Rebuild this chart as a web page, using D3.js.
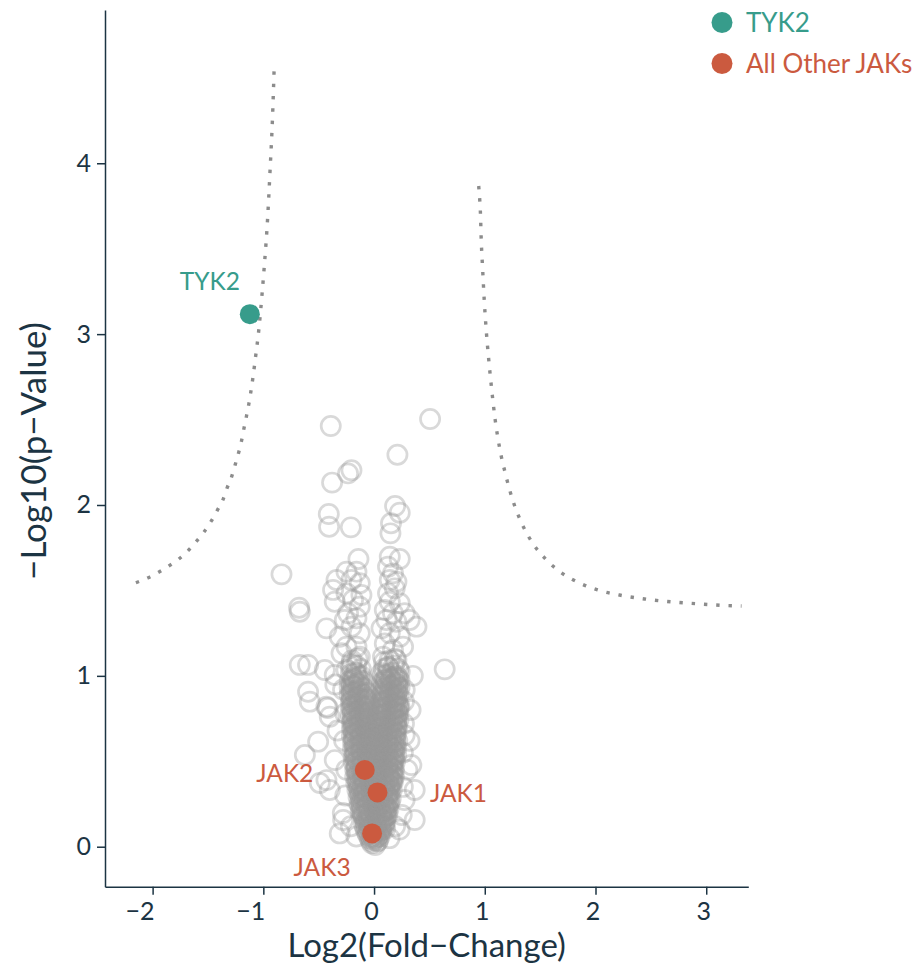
<!DOCTYPE html>
<html>
<head>
<meta charset="utf-8">
<script src="https://cdn.jsdelivr.net/npm/d3@7"></script>
<style>
  body { margin: 0; background: #fff; }
  text { font-family: Lato, "Open Sans", sans-serif; }
</style>
</head>
<body>
<div id="chart"></div>
<script>
// background proteins: [log2 fold-change, -log10 p]
const otherProteins = [
  // isolated points
  [0.506,2.503],[-0.391,2.462],[0.211,2.294],[-0.204,2.203],[-0.235,2.185],[-0.379,2.131],
  [0.190,1.994],[0.232,1.955],[-0.409,1.947],[-0.406,1.873],[-0.210,1.869],[0.153,1.893],
  [0.148,1.834],[-0.836,1.594],[-0.141,1.684],[-0.677,1.399],[-0.671,1.375],[-0.430,1.278],
  [0.383,1.288],[0.638,1.038],[-0.671,1.064],[-0.596,1.064],[-0.445,1.034],
  // left arm
  [-0.249,1.610],[-0.159,1.610],[-0.204,1.561],[-0.339,1.561],[-0.129,1.542],[-0.370,1.503],
  [-0.114,1.473],[-0.249,1.483],[-0.355,1.434],[-0.190,1.444],[-0.129,1.405],[-0.235,1.366],
  [-0.159,1.337],[-0.264,1.327],[-0.204,1.288],[-0.129,1.249],[-0.310,1.229],[-0.249,1.171],
  [-0.159,1.171],[-0.129,1.112],[-0.294,1.132],[-0.204,1.073],[-0.249,1.034],[-0.159,1.015],
  [-0.355,1.005],
  // right arm
  [0.142,1.697],[0.232,1.684],[0.126,1.639],[0.171,1.600],[0.142,1.561],[0.202,1.551],
  [0.187,1.512],[0.126,1.483],[0.142,1.434],[0.232,1.425],[0.097,1.385],[0.171,1.366],
  [0.277,1.366],[0.112,1.327],[0.202,1.317],[0.322,1.327],[0.067,1.278],[0.142,1.249],
  [0.232,1.229],[0.097,1.190],[0.171,1.151],[0.262,1.171],[0.081,1.112],[0.202,1.093],
  [0.126,1.054],[0.232,1.024],[0.067,1.015],
  // rings around the core
  [-0.596,0.907],[-0.580,0.849],[-0.418,0.812],[-0.400,0.761],[-0.505,0.615],[-0.625,0.537],
  [-0.430,0.390],[-0.490,0.373],[-0.400,0.332],[-0.355,0.507],[-0.282,0.197],[-0.279,0.156],
  [-0.310,0.078],[-0.430,0.819],[0.337,0.478],[0.367,0.332],[0.367,0.156],[0.320,0.620],
  [0.276,0.653],[0.300,0.450],[0.276,0.273],[0.250,0.186],[0.230,0.100],[0.277,0.917],
  [-0.26,0.30],[-0.25,0.45],[-0.27,0.62],[-0.26,0.78],[-0.28,0.92],[0.26,0.35],[0.26,0.55],
  [0.27,0.72],[0.27,0.85],[-0.21,0.12],[0.19,0.12],[-0.16,0.06],[0.14,0.05],[-0.33,0.68],
  [0.33,0.80],[-0.35,0.95],[0.35,1.00],
  // dense core
  [-0.02,0.02],[0.01,0.01],[0.03,0.03],
  [-0.04,0.05],[-0.01,0.06],[0.02,0.05],[0.05,0.06],
  [-0.07,0.09],[-0.03,0.10],[0.00,0.08],[0.04,0.09],[0.07,0.10],
  [-0.09,0.13],[-0.05,0.14],[-0.02,0.12],[0.02,0.13],[0.05,0.14],[0.09,0.12],
  [-0.10,0.18],[-0.06,0.17],[-0.02,0.16],[0.01,0.18],[0.05,0.17],[0.08,0.16],[0.11,0.18],
  [-0.12,0.21],[-0.08,0.22],[-0.04,0.20],[0.00,0.21],[0.03,0.22],[0.07,0.20],[0.10,0.21],[0.13,0.22],
  [-0.13,0.25],[-0.09,0.26],[-0.05,0.24],[-0.01,0.25],[0.02,0.26],[0.06,0.25],[0.10,0.24],[0.14,0.26],
  [-0.14,0.29],[-0.10,0.30],[-0.06,0.28],[-0.02,0.29],[0.02,0.30],[0.05,0.28],[0.09,0.29],[0.12,0.30],[0.15,0.28],
  [-0.15,0.33],[-0.11,0.34],[-0.07,0.32],[-0.03,0.33],[0.00,0.34],[0.04,0.32],[0.08,0.33],[0.12,0.34],[0.16,0.33],
  [-0.16,0.37],[-0.12,0.38],[-0.08,0.36],[-0.04,0.37],[0.00,0.38],[0.03,0.36],[0.07,0.37],[0.11,0.38],[0.14,0.36],[0.17,0.38],
  [-0.17,0.41],[-0.13,0.42],[-0.09,0.40],[-0.05,0.41],[-0.01,0.42],[0.03,0.40],[0.07,0.41],[0.10,0.42],[0.14,0.40],[0.18,0.41],
  [-0.17,0.45],[-0.13,0.46],[-0.09,0.44],[-0.05,0.45],[-0.02,0.46],[0.02,0.44],[0.06,0.45],[0.10,0.46],[0.14,0.44],[0.18,0.45],
  [-0.18,0.49],[-0.14,0.50],[-0.10,0.48],[-0.06,0.49],[-0.02,0.50],[0.02,0.48],[0.05,0.49],[0.09,0.50],[0.13,0.48],[0.16,0.49],[0.19,0.50],
  [-0.18,0.53],[-0.14,0.54],[-0.10,0.52],[-0.06,0.53],[-0.03,0.54],[0.01,0.52],[0.05,0.53],[0.09,0.54],[0.13,0.52],[0.17,0.53],[0.20,0.54],
  [-0.19,0.57],[-0.15,0.58],[-0.11,0.56],[-0.07,0.57],[-0.03,0.58],[0.01,0.56],[0.05,0.57],[0.09,0.58],[0.13,0.56],[0.17,0.57],[0.20,0.58],
  [-0.19,0.61],[-0.15,0.62],[-0.11,0.60],[-0.07,0.61],[-0.03,0.62],[0.01,0.60],[0.05,0.61],[0.09,0.62],[0.13,0.60],[0.17,0.61],[0.21,0.62],
  [-0.20,0.65],[-0.16,0.66],[-0.12,0.64],[-0.08,0.65],[-0.04,0.66],[0.00,0.64],[0.04,0.65],[0.08,0.66],[0.12,0.64],[0.16,0.65],[0.20,0.66],
  [-0.20,0.69],[-0.16,0.70],[-0.12,0.68],[-0.08,0.69],[-0.04,0.70],[0.01,0.68],[0.05,0.69],[0.09,0.70],[0.13,0.68],[0.17,0.69],[0.21,0.70],
  [-0.20,0.73],[-0.16,0.74],[-0.12,0.72],[-0.08,0.73],[-0.03,0.74],[0.02,0.72],[0.06,0.73],[0.10,0.74],[0.14,0.72],[0.18,0.73],[0.22,0.74],
  [-0.21,0.77],[-0.17,0.78],[-0.13,0.76],[-0.09,0.77],[-0.05,0.78],[0.03,0.76],[0.07,0.77],[0.11,0.78],[0.15,0.76],[0.19,0.77],[0.22,0.78],
  [-0.21,0.81],[-0.17,0.82],[-0.13,0.80],[-0.09,0.81],[-0.05,0.82],[0.04,0.80],[0.08,0.81],[0.12,0.82],[0.16,0.80],[0.20,0.81],[0.23,0.82],
  [-0.21,0.85],[-0.17,0.86],[-0.13,0.84],[-0.09,0.85],[-0.06,0.86],[0.05,0.84],[0.09,0.85],[0.13,0.86],[0.17,0.84],[0.21,0.85],
  [-0.22,0.89],[-0.18,0.90],[-0.14,0.88],[-0.10,0.89],[-0.06,0.90],[0.06,0.88],[0.10,0.89],[0.14,0.90],[0.18,0.88],[0.22,0.89],
  [-0.22,0.93],[-0.18,0.94],[-0.14,0.92],[-0.10,0.93],[0.07,0.92],[0.11,0.93],[0.15,0.94],[0.19,0.92],[0.23,0.93],
  [-0.22,0.97],[-0.18,0.98],[-0.14,0.96],[-0.10,0.97],[0.07,0.96],[0.11,0.97],[0.15,0.98],[0.19,0.96],[0.23,0.97],
  [-0.21,1.01],[-0.17,1.02],[-0.12,1.00],[0.08,1.00],[0.12,1.01],[0.16,1.02],[0.20,1.00],
  [-0.21,1.05],[-0.16,1.06],[-0.12,1.04],[0.09,1.04],[0.13,1.05],[0.18,1.06],[0.22,1.04],
  [-0.20,1.09],[-0.15,1.10],[0.09,1.08],[0.14,1.09],[0.19,1.10],
  // core, second layer
  [-0.03,0.035],[0.00,0.04],[0.035,0.035],
  [-0.055,0.07],[-0.02,0.075],[0.015,0.07],[0.05,0.075],
  [-0.08,0.11],[-0.045,0.115],[-0.01,0.105],[0.03,0.11],[0.065,0.115],[0.10,0.105],
  [-0.08,0.15],[-0.04,0.155],[0.00,0.145],[0.035,0.15],[0.07,0.155],[0.10,0.145],
  [-0.10,0.19],[-0.065,0.195],[-0.03,0.185],[0.03,0.19],[0.065,0.195],[0.12,0.185],
  [-0.11,0.23],[-0.07,0.235],[-0.02,0.225],[0.02,0.23],[0.05,0.235],[0.09,0.225],[0.12,0.23],
  [-0.12,0.27],[-0.08,0.275],[-0.03,0.265],[0.00,0.27],[0.04,0.275],[0.08,0.265],[0.12,0.27],
  [-0.13,0.31],[-0.09,0.315],[-0.05,0.305],[-0.01,0.31],[0.03,0.315],[0.07,0.305],[0.11,0.31],[0.14,0.315],
  [-0.14,0.35],[-0.10,0.355],[-0.06,0.345],[-0.02,0.35],[0.02,0.355],[0.06,0.345],[0.10,0.35],[0.14,0.355],
  [-0.15,0.39],[-0.10,0.395],[-0.06,0.385],[-0.02,0.39],[0.02,0.395],[0.05,0.385],[0.09,0.39],[0.13,0.395],[0.16,0.385],
  [-0.15,0.43],[-0.11,0.435],[-0.07,0.425],[-0.03,0.43],[0.01,0.435],[0.05,0.425],[0.09,0.43],[0.12,0.435],[0.16,0.425],
  [-0.16,0.47],[-0.12,0.475],[-0.07,0.465],[-0.04,0.47],[0.00,0.475],[0.04,0.465],[0.08,0.47],[0.12,0.475],[0.16,0.465],
  [-0.16,0.51],[-0.12,0.515],[-0.08,0.505],[-0.04,0.51],[0.00,0.515],[0.03,0.505],[0.07,0.51],[0.11,0.515],[0.15,0.505],[0.18,0.51],
  [-0.17,0.55],[-0.12,0.555],[-0.08,0.545],[-0.05,0.55],[-0.01,0.555],[0.03,0.545],[0.07,0.55],[0.11,0.555],[0.15,0.545],[0.18,0.55],
  [-0.17,0.59],[-0.13,0.595],[-0.09,0.585],[-0.05,0.59],[-0.01,0.595],[0.03,0.585],[0.07,0.59],[0.11,0.595],[0.15,0.585],[0.19,0.59],
  [-0.18,0.63],[-0.13,0.635],[-0.09,0.625],[-0.05,0.63],[-0.01,0.635],[0.03,0.625],[0.07,0.63],[0.11,0.635],[0.15,0.625],[0.19,0.63],
  [-0.18,0.67],[-0.14,0.675],[-0.10,0.665],[-0.06,0.67],[-0.02,0.675],[0.03,0.665],[0.07,0.67],[0.11,0.675],[0.15,0.665],[0.19,0.67],
  [-0.18,0.71],[-0.14,0.715],[-0.10,0.705],[-0.06,0.71],[-0.01,0.715],[0.04,0.705],[0.08,0.71],[0.12,0.715],[0.16,0.705],[0.20,0.71],
  [-0.19,0.75],[-0.15,0.755],[-0.11,0.745],[-0.07,0.75],[0.05,0.755],[0.09,0.745],[0.13,0.75],[0.17,0.755],[0.20,0.745],
  [-0.19,0.79],[-0.15,0.795],[-0.11,0.785],[-0.07,0.79],[0.06,0.795],[0.10,0.785],[0.14,0.79],[0.18,0.795],[0.21,0.785],
  [-0.19,0.83],[-0.15,0.835],[-0.11,0.825],[-0.07,0.83],[0.07,0.835],[0.11,0.825],[0.15,0.83],[0.19,0.835],[0.22,0.825],
  [-0.20,0.87],[-0.16,0.875],[-0.12,0.865],[-0.08,0.87],[0.08,0.875],[0.12,0.865],[0.16,0.87],[0.20,0.875],
  [-0.20,0.91],[-0.16,0.915],[-0.12,0.905],[0.09,0.91],[0.13,0.915],[0.17,0.905],[0.21,0.91],
  [-0.20,0.95],[-0.16,0.955],[-0.12,0.945],[0.09,0.95],[0.13,0.955],[0.17,0.945],[0.21,0.95],
  [-0.19,0.99],[-0.15,0.995],[0.10,0.985],[0.14,0.99],[0.18,0.995],[0.22,0.985],
  // core, third layer
  [-0.025,0.055],[0.025,0.055],
  [-0.05,0.095],[0.015,0.095],[0.06,0.095],
  [-0.07,0.135],[-0.03,0.135],[0.01,0.135],[0.06,0.135],[0.09,0.135],
  [-0.09,0.175],[-0.04,0.175],[0.02,0.175],[0.07,0.175],[0.10,0.175],
  [-0.10,0.215],[-0.05,0.215],[0.01,0.215],[0.06,0.215],[0.11,0.215],
  [-0.11,0.255],[-0.06,0.255],[-0.01,0.255],[0.04,0.255],[0.09,0.255],[0.13,0.255],
  [-0.12,0.295],[-0.07,0.295],[-0.02,0.295],[0.03,0.295],[0.08,0.295],[0.13,0.295],
  [-0.13,0.335],[-0.08,0.335],[-0.02,0.335],[0.03,0.335],[0.09,0.335],[0.14,0.335],
  [-0.14,0.375],[-0.09,0.375],[-0.03,0.375],[0.02,0.375],[0.08,0.375],[0.13,0.375],[0.16,0.375],
  [-0.15,0.415],[-0.10,0.415],[-0.04,0.415],[0.02,0.415],[0.08,0.415],[0.13,0.415],[0.17,0.415],
  [-0.16,0.455],[-0.10,0.455],[-0.04,0.455],[0.01,0.455],[0.07,0.455],[0.12,0.455],[0.17,0.455],
  [-0.16,0.495],[-0.11,0.495],[-0.05,0.495],[0.01,0.495],[0.07,0.495],[0.12,0.495],[0.17,0.495],
  [-0.17,0.535],[-0.11,0.535],[-0.05,0.535],[0.00,0.535],[0.06,0.535],[0.12,0.535],[0.18,0.535],
  [-0.17,0.575],[-0.12,0.575],[-0.06,0.575],[0.00,0.575],[0.06,0.575],[0.12,0.575],[0.18,0.575],
  [-0.18,0.615],[-0.12,0.615],[-0.06,0.615],[0.00,0.615],[0.06,0.615],[0.12,0.615],[0.19,0.615],
  [-0.18,0.655],[-0.12,0.655],[-0.06,0.655],[0.01,0.655],[0.07,0.655],[0.13,0.655],[0.19,0.655],
  [-0.19,0.695],[-0.13,0.695],[-0.07,0.695],[0.02,0.695],[0.08,0.695],[0.14,0.695],[0.20,0.695],
  [-0.19,0.735],[-0.13,0.735],[-0.07,0.735],[0.04,0.735],[0.10,0.735],[0.16,0.735],[0.20,0.735],
  [-0.19,0.775],[-0.13,0.775],[-0.07,0.775],[0.05,0.775],[0.11,0.775],[0.17,0.775],[0.21,0.775],
  [-0.20,0.815],[-0.14,0.815],[-0.08,0.815],[0.06,0.815],[0.12,0.815],[0.18,0.815],[0.22,0.815],
  [-0.20,0.855],[-0.14,0.855],[-0.08,0.855],[0.07,0.855],[0.13,0.855],[0.19,0.855],
  [-0.20,0.895],[-0.14,0.895],[0.08,0.895],[0.14,0.895],[0.20,0.895],
  [-0.20,0.935],[-0.13,0.935],[0.09,0.935],[0.15,0.935],[0.21,0.935],
  [-0.19,0.975],[-0.13,0.975],[0.10,0.975],[0.16,0.975],[0.21,0.975]
];

// highlighted kinases
const jakNames = ["TYK2", "JAK2", "JAK1", "JAK3"];
const jakX = [-1.122, -0.084, 0.031, -0.018];
const jakY = [3.117, 0.449, 0.318, 0.078];
const jakGroup = ["TYK2", "All Other JAKs", "All Other JAKs", "All Other JAKs"];

// significance threshold curves
const leftCutoff = [
  [-2.151,1.545],[-2.045,1.573],[-1.946,1.606],[-1.853,1.643],[-1.763,1.684],[-1.679,1.733],
  [-1.603,1.788],[-1.534,1.844],[-1.471,1.905],[-1.417,1.967],[-1.366,2.029],[-1.327,2.100],
  [-1.287,2.164],[-1.255,2.234],[-1.224,2.304],[-1.197,2.375],[-1.176,2.445],[-1.152,2.521],
  [-1.131,2.591],[-1.113,2.662],[-1.097,2.732],[-1.068,2.878],[-1.041,3.024],[-1.011,3.239],
  [-0.993,3.383],[-0.962,3.670],[-0.939,3.961],[-0.918,4.253],[-0.903,4.540]
];
const rightCutoff = [
  [0.945,3.867],[0.954,3.791],[0.960,3.721],[0.968,3.551],[0.981,3.376],[0.995,3.200],
  [1.013,3.024],[1.036,2.849],[1.063,2.673],[1.094,2.498],[1.134,2.334],[1.189,2.176],
  [1.252,2.029],[1.333,1.894],[1.432,1.777],[1.550,1.683],[1.685,1.607],[1.838,1.549],
  [2.019,1.503],[2.217,1.473],[2.443,1.450],[2.687,1.433],[2.940,1.421],[3.166,1.412],
  [3.319,1.409]
];

const xTicks = [-2, -1, 0, 1, 2, 3];
const yTicks = [0, 1, 2, 3, 4];
const legendLabels = ["TYK2", "All Other JAKs"];

const W = 918, H = 967;
const margin = { top: 10, right: 169.7, bottom: 80.3, left: 105 };
const ink = "#1c3443";
const colors = { "TYK2": "#379c8b", "All Other JAKs": "#cb5a3f" };

const svg = d3.select("#chart").append("svg")
  .attr("width", W).attr("height", H)
  .style("background", "#fff");

const x = d3.scaleLinear().domain([-2.43, 3.38]).range([margin.left, W - margin.right]);
const y = d3.scaleLinear().domain([-0.234, 4.897]).range([H - margin.bottom, margin.top]);

// background points
svg.append("g")
  .selectAll("circle")
  .data(otherProteins)
  .join("circle")
  .attr("cx", d => x(d[0]))
  .attr("cy", d => y(d[1]))
  .attr("r", 9.6)
  .attr("fill", "none")
  .attr("stroke", "#999")
  .attr("stroke-opacity", 0.37)
  .attr("stroke-width", 2.7);

// threshold curves
const line = d3.line().x(d => x(d[0])).y(d => y(d[1])).curve(d3.curveMonotoneX);
[leftCutoff, rightCutoff].forEach(c => {
  svg.append("path")
    .attr("d", line(c))
    .attr("fill", "none")
    .attr("stroke", "#8c8c8c")
    .attr("stroke-width", 3.4)
    .attr("stroke-dasharray", "3.4 8.9");
});

// axes
const fmt = d3.format("d");
const xAxis = svg.append("g")
  .attr("transform", `translate(0,${H - margin.bottom})`)
  .call(d3.axisBottom(x).tickValues(xTicks).tickFormat(fmt)
    .tickSize(8).tickSizeOuter(0).tickPadding(8));
const yAxis = svg.append("g")
  .attr("transform", `translate(${margin.left},0)`)
  .call(d3.axisLeft(y).tickValues(yTicks).tickFormat(fmt)
    .tickSize(8).tickSizeOuter(0).tickPadding(6));

[xAxis, yAxis].forEach(g => {
  g.select(".domain").attr("stroke", ink).attr("stroke-width", 1.5);
  g.selectAll(".tick line").attr("stroke", ink).attr("stroke-width", 1.5);
  g.selectAll(".tick text")
    .attr("fill", ink)
    .style("font-size", "25px")
    .style("font-family", "Lato, sans-serif");
});
// the original's negative labels sit left of their ticks
xAxis.selectAll(".tick text").attr("dx", d => d < 0 ? -13 : -3);

// axis titles
svg.append("text")
  .attr("x", (margin.left + W - margin.right) / 2)
  .attr("y", 957)
  .attr("text-anchor", "middle")
  .attr("fill", ink)
  .style("font-size", "33px")
  .text("Log2(Fold\u2212Change)");

svg.append("text")
  .attr("transform", "translate(46,451) rotate(-90)")
  .attr("text-anchor", "middle")
  .attr("fill", ink)
  .style("font-size", "35px")
  .text("\u2212Log10(p\u2212Value)");

// highlighted points
const jaks = jakNames.map((n, i) => ({ name: n, x: jakX[i], y: jakY[i], group: jakGroup[i] }));
svg.append("g")
  .selectAll("circle")
  .data(jaks)
  .join("circle")
  .attr("cx", d => x(d.x))
  .attr("cy", d => y(d.y))
  .attr("r", 10)
  .attr("fill", d => colors[d.group]);

// repelled labels (pixel offsets)
const labelOffset = {
  "TYK2": [-40, -33],
  "JAK2": [-80, 3],
  "JAK1": [81, 1],
  "JAK3": [-50, 34]
};
svg.append("g")
  .selectAll("text")
  .data(jaks)
  .join("text")
  .attr("x", d => x(d.x) + labelOffset[d.name][0])
  .attr("y", d => y(d.y) + labelOffset[d.name][1])
  .attr("text-anchor", "middle")
  .attr("dy", "0.35em")
  .attr("fill", d => colors[d.group])
  .style("font-size", "24.5px")
  .text(d => d.name);

// legend
const legend = svg.append("g").attr("transform", "translate(722,22.5)");
legendLabels.forEach((lab, i) => {
  const g = legend.append("g").attr("transform", `translate(0,${i * 41})`);
  g.append("circle").attr("r", 10.5).attr("fill", colors[lab]);
  g.append("text")
    .attr("x", 24)
    .attr("dy", "0.35em")
    .attr("fill", colors[lab])
    .style("font-size", "26px")
    .text(lab);
});
</script>
</body>
</html>
